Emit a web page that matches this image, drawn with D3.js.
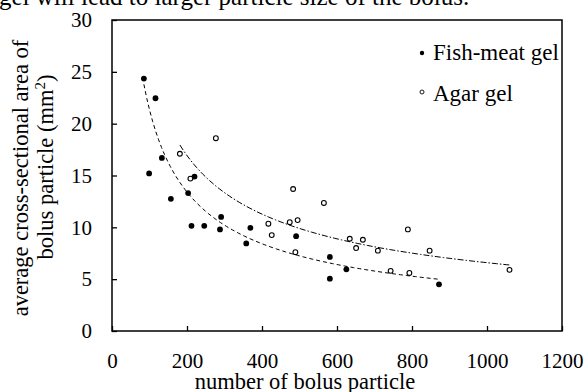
<!DOCTYPE html>
<html>
<head>
<meta charset="utf-8">
<script src="https://cdn.jsdelivr.net/npm/d3@7"></script>
<style>
  body { margin: 0; background: #fff; }
</style>
</head>
<body>
<script>
// number of bolus particle vs. average cross-sectional area (mm2)
const fishX = [85, 99, 116, 133, 157, 203, 212, 220, 246, 288, 291, 358, 369, 491, 581, 581, 625, 872];
const fishY = [24.35, 15.2, 22.45, 16.7, 12.75, 13.3, 10.15, 14.9, 10.15, 9.8, 11.0, 8.45, 9.95, 9.15, 7.15, 5.05, 5.95, 4.5];

const agarX = [181, 209, 277, 417, 426, 474, 483, 489, 495, 565, 634, 651, 669, 709, 743, 789, 793, 847, 1060];
const agarY = [17.1, 14.7, 18.6, 10.35, 9.25, 10.5, 13.7, 7.6, 10.7, 12.35, 8.9, 8.0, 8.8, 7.75, 5.8, 9.8, 5.6, 7.75, 5.9];

// power trend lines y = a * x^b
const fishTrend = [469, -0.671];
const agarTrend = [377.5, -0.586];

const xTicks = [0, 200, 400, 600, 800, 1000, 1200];
const yTicks = [0, 5, 10, 15, 20, 25, 30];

const seriesNames = ["Fish-meat gel", "Agar gel"];

const width  = 587;
const height = 392;
const plotL = 112, plotR = 562, plotT = 20, plotB = 331;
const serif = "'Liberation Serif', 'Times New Roman', serif";

const svg = d3.select("body").append("svg")
  .attr("width", width)
  .attr("height", height)
  .style("display", "block")
  .attr("font-family", serif);

const x = d3.scaleLinear().domain([0, 1200]).range([plotL, plotR]);
const y = d3.scaleLinear().domain([0, 30]).range([plotB, plotT]);

// caption text cut off at the top of the picture
svg.append("text")
  .attr("x", -1).attr("y", 5)
  .style("font-size", "25px")
  .text("gel will lead to larger particle size of the bolus.");

// axes with inward ticks
const xAxis = svg.append("g")
  .attr("transform", `translate(0,${plotB})`)
  .call(d3.axisBottom(x).tickValues(xTicks).tickFormat(d3.format("d")).tickSize(-5).tickPadding(22));
const yAxis = svg.append("g")
  .attr("transform", `translate(${plotL},0)`)
  .call(d3.axisLeft(y).tickValues(yTicks).tickFormat(d3.format("d")).tickSize(-5).tickPadding(20));

for (const ax of [xAxis, yAxis]) {
  ax.attr("font-family", serif).attr("font-size", 21);
  ax.select(".domain").remove();
  ax.selectAll("line").attr("stroke", "#000").attr("stroke-width", 1.3);
  ax.selectAll("text").attr("fill", "#000");
}

svg.append("rect")
  .attr("x", plotL).attr("y", plotT)
  .attr("width", plotR - plotL).attr("height", plotB - plotT)
  .attr("fill", "none").attr("stroke", "#000").attr("stroke-width", 1.5);

function trend(xs, [a, b], dash) {
  const [x0, x1] = d3.extent(xs);
  const pts = d3.range(0, 101).map(i => x0 + (x1 - x0) * i / 100);
  svg.append("path")
    .datum(pts)
    .attr("d", d3.line().x(d => x(d)).y(d => y(a * Math.pow(d, b))))
    .attr("fill", "none")
    .attr("stroke", "#000")
    .attr("stroke-width", 1)
    .attr("stroke-dasharray", dash);
}

trend(fishX, fishTrend, "4,3");
trend(agarX, agarTrend, "6,2,1.5,2");

svg.append("g").selectAll("circle")
  .data(fishX.map((v, i) => [v, fishY[i]]))
  .join("circle")
  .attr("cx", d => x(d[0])).attr("cy", d => y(d[1]))
  .attr("r", 2.9).attr("fill", "#000");

svg.append("g").selectAll("circle")
  .data(agarX.map((v, i) => [v, agarY[i]]))
  .join("circle")
  .attr("cx", d => x(d[0])).attr("cy", d => y(d[1]))
  .attr("r", 2.4).attr("fill", "#fff").attr("stroke", "#000").attr("stroke-width", 1.1);

// legend
const legend = svg.append("g").attr("transform", "translate(422,53)");
legend.append("circle").attr("r", 2.2).attr("fill", "#000");
legend.append("circle").attr("cy", 39).attr("r", 2).attr("fill", "#fff")
  .attr("stroke", "#000").attr("stroke-width", 0.9);
legend.selectAll("text")
  .data(seriesNames)
  .join("text")
  .attr("x", 11).attr("y", (d, i) => 7 + i * 41)
  .style("font-size", "23px")
  .text(d => d);

// axis titles
svg.append("text")
  .attr("x", 305).attr("y", 389)
  .attr("text-anchor", "middle")
  .style("font-size", "22.5px")
  .text("number of bolus particle");

svg.append("text")
  .attr("transform", "translate(28,178) rotate(-90)")
  .attr("text-anchor", "middle")
  .style("font-size", "22.5px")
  .text("average cross-sectional area of");

const t2 = svg.append("text")
  .attr("transform", "translate(53,167) rotate(-90)")
  .attr("text-anchor", "middle")
  .style("font-size", "22.5px");
t2.append("tspan").text("bolus particle (mm");
t2.append("tspan").attr("dy", -8).style("font-size", "15px").text("2");
t2.append("tspan").attr("dy", 8).text(")");
</script>
</body>
</html>
